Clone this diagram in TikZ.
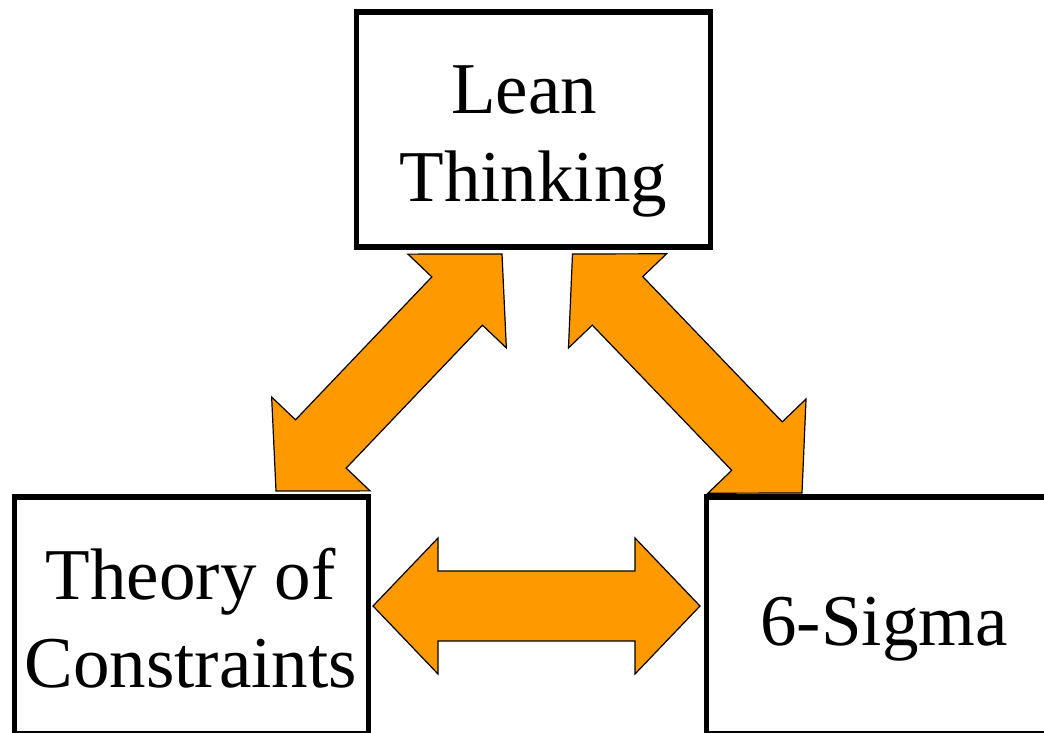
\documentclass[tikz,border=0pt]{standalone}
\usepackage{fontspec}
\setmainfont{Liberation Serif}
\usetikzlibrary{positioning, calc}

\definecolor{arroworange}{RGB}{255,153,0}

% double block arrow between two tips
\newcommand\fatarrow[2]{%
  \draw[blockarrow] (#1)
    -- ($(#1)!65pt!(#2)!68pt!90:(#2)$) -- ($(#1)!65pt!(#2)!35pt!90:(#2)$)
    -- ($(#2)!65pt!(#1)!35pt!-90:(#1)$) -- ($(#2)!65pt!(#1)!68pt!-90:(#1)$)
    -- (#2)
    -- ($(#2)!65pt!(#1)!68pt!90:(#1)$) -- ($(#2)!65pt!(#1)!35pt!90:(#1)$)
    -- ($(#1)!65pt!(#2)!35pt!-90:(#2)$) -- ($(#1)!65pt!(#2)!68pt!-90:(#2)$)
    -- cycle;}

\begin{document}
\begin{tikzpicture}[
    x=1pt, y=1pt,
    % Styles
    topic/.style={
        draw, line width=5.5pt, rectangle, minimum width=354pt, minimum height=235pt, inner sep=0pt
    },
    boxtext/.style={
        font=\fontsize{73}{88}\selectfont, align=center, inner sep=0pt
    },
    blockarrow/.style={fill=arroworange, draw=black, line width=1.2pt, line join=miter}
]
    \useasboundingbox (0,0) rectangle (1044,732);
    \clip (0,0) rectangle (1044,732);
    \fill[white] (0,0) rectangle (1044,732);

    % --- BOXES ---
    \node[topic] (lean) at (533.3,602.5) {};
    % bottom row runs off the page
    \node[topic, minimum height=237pt] (toc) at (191.3,116.5) {};
    \node[topic, minimum height=237pt, right=332.5pt of toc] (sigma) {};

    % --- TEXTS ---
    \node[boxtext] (leantext) at ([yshift=-11.8pt]lean.center) {Lean\hphantom{\ }\\Thinking};
    \node[boxtext] (toctext) at ([xshift=-0.6pt, yshift=-2.7pt]toc.center) {Theory of\\Constraints};
    \node[boxtext, anchor=base] (sigmatext) at ([xshift=0.7pt, yshift=-29.5pt]sigma.center) {6-Sigma};

    % --- ARROW TIPS ---
    \coordinate (leanL) at (502,478);
    \coordinate (leanR) at (572.5,478);
    \coordinate (tocUp) at (276,241);
    \coordinate (tocR) at (373,126);
    \coordinate (sigmaUp) at (802,239);
    \coordinate (sigmaL) at (700,126);

    % --- CONNECTIONS ---
    \fatarrow{tocUp}{leanL}
    \fatarrow{leanR}{sigmaUp}
    \fatarrow{tocR}{sigmaL}

\end{tikzpicture}
\end{document}
